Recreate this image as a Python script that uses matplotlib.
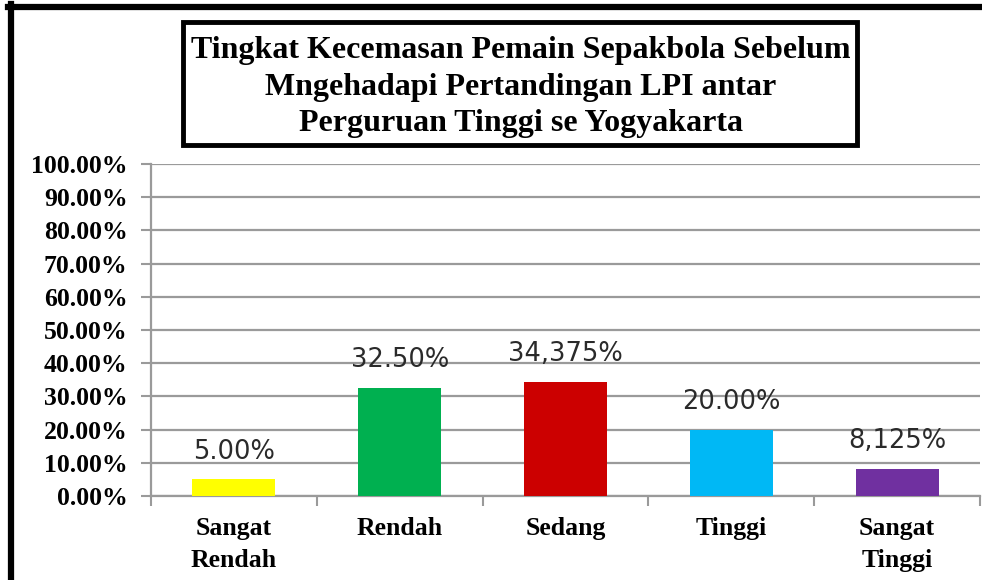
import matplotlib
matplotlib.use("Agg")
import matplotlib.pyplot as plt
from matplotlib.patches import Rectangle
from matplotlib.lines import Line2D

# data
categories = ["Sangat\nRendah", "Rendah", "Sedang", "Tinggi", "Sangat\nTinggi"]
values = [0.05, 0.325, 0.34375, 0.20, 0.08125]
value_labels = ["5.00%", "32.50%", "34,375%", "20.00%", "8,125%"]
bar_colors = ["#FFFF00", "#00B050", "#CC0000", "#00B8F5", "#7030A0"]
y_ticks = [i / 10 for i in range(11)]
y_ticklabels = ["%.2f%%" % (v * 100) for v in y_ticks]
title = ("Tingkat Kecemasan Pemain Sepakbola Sebelum\n"
         "Mngehadapi Pertandingan LPI antar\n"
         "Perguruan Tinggi se Yogyakarta")

serif = "Liberation Serif"
grid_col = "#9a9a9a"

fig = plt.figure(figsize=(9.82, 5.80), dpi=100)
ax = fig.add_axes([151 / 982, 84 / 580, (980 - 151) / 982, (496 - 164) / 580])

x = list(range(len(categories)))
ax.bar(x, values, width=0.5, color=bar_colors, zorder=3)

for xi, v, lab in zip(x, values, value_labels):
    ax.annotate(lab, (xi, v), xytext=(0, 20), textcoords="offset points",
                ha="center", va="center", fontsize=18.5, family="DejaVu Sans",
                color="#2a2a2a", zorder=4)

ax.set_xlim(-0.5, len(categories) - 0.5)
ax.set_ylim(0, 1.0)
ax.set_yticks(y_ticks)
ax.set_yticklabels(y_ticklabels, family=serif, fontweight="bold", fontsize=18.5)
ax.set_xticks(x)
ax.set_xticklabels(categories, family=serif, fontweight="bold", fontsize=18.5,
                   linespacing=1.5)
ax.set_xticks([i - 0.5 for i in range(len(categories) + 1)], minor=True)

ax.tick_params(axis="x", which="major", length=0, pad=15)
ax.tick_params(axis="x", which="minor", length=7, width=1.5, color=grid_col)
ax.tick_params(axis="y", length=7, width=1.5, color=grid_col, pad=10)

ax.yaxis.grid(True, color=grid_col, linewidth=1.6, zorder=0)
ax.set_axisbelow(True)
for s in ["top", "right"]:
    ax.spines[s].set_visible(False)
for s in ["left", "bottom"]:
    ax.spines[s].set_color(grid_col)
    ax.spines[s].set_linewidth(1.6)

# outer frame (left and top edges visible)
fig.add_artist(Line2D([11 / 982, 11 / 982], [0, 1 - 4 / 580], color="black",
                      linewidth=4.5, transform=fig.transFigure))
fig.add_artist(Line2D([8 / 982, 1], [1 - 7 / 580, 1 - 7 / 580], color="black",
                      linewidth=4.5, transform=fig.transFigure))

# title box
fig.add_artist(Rectangle((183 / 982, 1 - 145 / 580), (857 - 183) / 982,
                         (145 - 22) / 580, fill=False, edgecolor="black",
                         linewidth=3.5, transform=fig.transFigure))
fig.text(521 / 982, 1 - 87 / 580, title, ha="center", va="center",
         family=serif, fontweight="bold", fontsize=23, linespacing=1.36)

fig.savefig("out.png", dpi=100)
